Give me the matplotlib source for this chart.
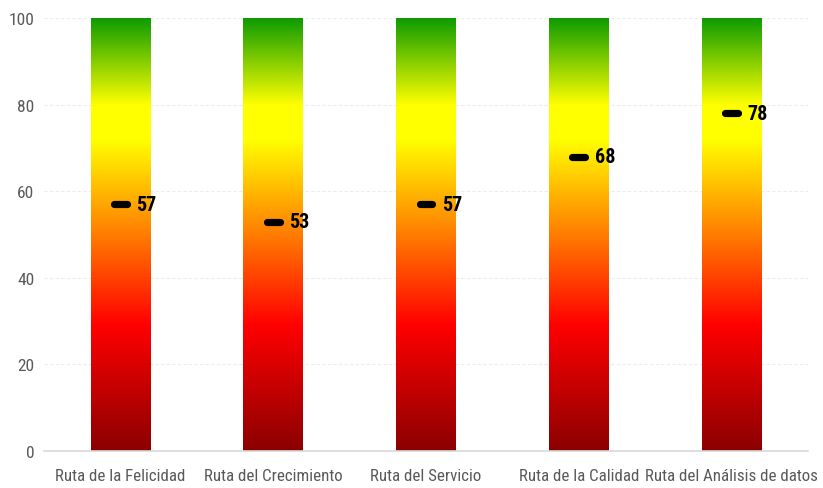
import numpy as np
import matplotlib.pyplot as plt
from matplotlib import font_manager
from matplotlib.colors import LinearSegmentedColormap
from matplotlib.patches import Rectangle

# Datos
rutas = ["Ruta de la Felicidad", "Ruta del Crecimiento", "Ruta del Servicio",
         "Ruta de la Calidad", "Ruta del Análisis de datos"]
puntajes = [57, 53, 57, 68, 78]
escala_max = 100
yticks = [0, 20, 40, 60, 80, 100]

# Fuente condensada: la primera disponible
nombres = {f.name for f in font_manager.fontManager.ttflist}
fuente = "DejaVu Sans"
for cand in ["Liberation Sans Narrow", "Roboto Condensed", "Archivo Narrow",
             "Open Sans Condensed", "Fira Sans Condensed"]:
    if cand in nombres:
        fuente = cand
        break
plt.rcParams["font.family"] = [fuente, "DejaVu Sans"]
if fuente == "DejaVu Sans":
    plt.rcParams["font.stretch"] = "condensed"

# Degradado rojo oscuro -> rojo -> amarillo -> verde
cmap = LinearSegmentedColormap.from_list("semaforo", [
    (0.00, "#8b0000"),
    (0.29, "#ff0000"),
    (0.72, "#ffff00"),
    (0.80, "#ffff00"),
    (1.00, "#0f9c00"),
])

fig = plt.figure(figsize=(8.23, 4.89), dpi=100)
ax = fig.add_axes([44 / 823, 37 / 489, 764 / 823, 433 / 489])

x = np.arange(len(rutas))
ancho = 0.39
grad = np.linspace(0, 1, 512).reshape(-1, 1)

for xi in x:
    im = ax.imshow(grad, cmap=cmap, origin="lower", aspect="auto",
                   extent=[xi - ancho / 2, xi + ancho / 2, 0, escala_max], zorder=2)
    clip = Rectangle((xi - ancho / 2, 0), ancho, escala_max, transform=ax.transData,
                     facecolor="none", edgecolor="none")
    ax.add_patch(clip)
    im.set_clip_path(clip)

# Marcadores y etiquetas
for xi, v in zip(x, puntajes):
    ax.plot([xi - 0.042, xi + 0.042], [v, v], color="black", lw=5.2,
            solid_capstyle="round", zorder=4)
    ax.text(xi + 0.105, v, str(v), ha="left", va="center", fontsize=14.5,
            fontweight="bold", color="black", zorder=5)

ax.set_xlim(-0.5, len(rutas) - 0.5)
ax.set_ylim(0, escala_max)
ax.set_xticks(x)
ax.set_xticklabels(rutas, fontsize=12.2, color="#595959")
ax.set_yticks(yticks)
ax.set_yticklabels([str(t) for t in yticks], fontsize=12.5, color="#595959")
ax.tick_params(axis="x", length=0, pad=12)
ax.tick_params(axis="y", length=0, pad=7)

ax.grid(axis="y", color="#ececec", linestyle=(0, (3, 2)), lw=0.8, zorder=0)
ax.set_axisbelow(True)
for s in ["top", "right", "left"]:
    ax.spines[s].set_visible(False)
ax.spines["bottom"].set_color("#d9d9d9")
ax.spines["bottom"].set_linewidth(1.2)

fig.savefig("out.png", dpi=100)
